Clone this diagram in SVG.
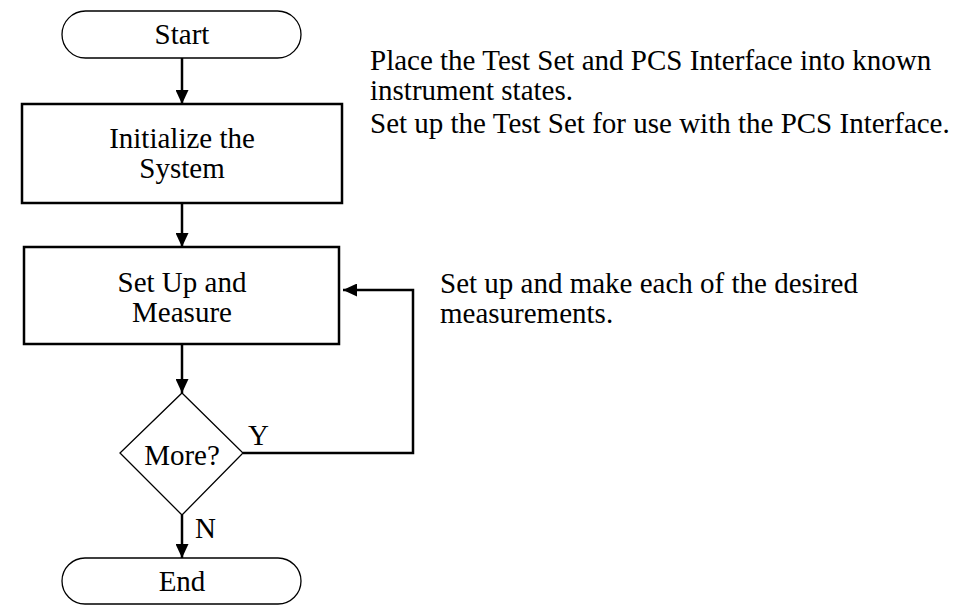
<svg xmlns="http://www.w3.org/2000/svg" width="961" height="605" viewBox="0 0 961 605">
<style>
text{font-family:"Liberation Serif","Times New Roman",serif;font-size:29px;fill:#000}
.c{text-anchor:middle}
.thin{fill:#fff;stroke:#000;stroke-width:1.3}
.box{fill:#fff;stroke:#000;stroke-width:2.5}
.ln{fill:none;stroke:#000;stroke-width:2.5}
</style>
<defs>
<marker id="ah" viewBox="0 0 14 13" refX="14" refY="6.5" markerWidth="14" markerHeight="13" markerUnits="userSpaceOnUse" orient="auto">
<path d="M0,0 L14,6.5 L0,13 Z" fill="#000"/>
</marker>
</defs>
<rect width="961" height="605" fill="#fff"/>
<g id="connectors">
<line class="ln" x1="182" y1="58" x2="182" y2="104" marker-end="url(#ah)"/>
<line class="ln" x1="182" y1="203" x2="182" y2="247" marker-end="url(#ah)"/>
<line class="ln" x1="182" y1="344" x2="182" y2="393" marker-end="url(#ah)"/>
<line class="ln" x1="182" y1="515" x2="182" y2="558" marker-end="url(#ah)"/>
<polyline class="ln" points="243,453 413,453 413,290 343,290" marker-end="url(#ah)"/>
<text x="248" y="445">Y</text>
<text x="195" y="538">N</text>
</g>
<g id="start">
<rect class="thin" x="62" y="11" width="239" height="47" rx="23.5"/>
<text class="c" x="182" y="44">Start</text>
</g>
<g id="init">
<rect class="box" x="22" y="104" width="320" height="99"/>
<text class="c" x="182" y="148">Initialize the</text>
<text class="c" x="182" y="178">System</text>
</g>
<g id="measure">
<rect class="box" x="24" y="247" width="315" height="97"/>
<text class="c" x="182" y="292">Set Up and</text>
<text class="c" x="182" y="322">Measure</text>
</g>
<g id="more">
<polygon class="thin" points="182,393 243,453 182,515 120,453"/>
<text class="c" x="182" y="465">More?</text>
</g>
<g id="end">
<rect class="thin" x="62" y="558" width="239" height="46" rx="23"/>
<text class="c" x="182" y="591">End</text>
</g>
<g id="notes">
<text x="370" y="70">Place the Test Set and PCS Interface into known</text>
<text x="370" y="100">instrument states.</text>
<text x="370" y="133">Set up the Test Set for use with the PCS Interface.</text>
<text x="440" y="293">Set up and make each of the desired</text>
<text x="440" y="323">measurements.</text>
</g>
</svg>
